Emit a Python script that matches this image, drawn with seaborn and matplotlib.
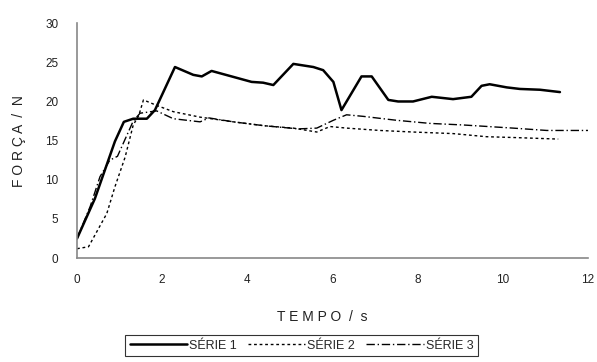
import matplotlib
matplotlib.use("Agg")
import matplotlib.pyplot as plt
import seaborn as sns

# Série 1
t1 = [0.0, 0.42, 0.89, 1.10, 1.32, 1.64, 1.83, 2.30, 2.73, 2.93, 3.16, 4.10, 4.37, 4.61,
      5.08, 5.55, 5.78, 6.02, 6.21, 6.68, 6.92, 7.31, 7.54, 7.89, 8.33, 8.83, 9.26, 9.50,
      9.69, 10.09, 10.4, 10.87, 11.34]
f1 = [2.5, 7.6, 14.9, 17.4, 17.8, 17.8, 18.9, 24.4, 23.4, 23.2, 23.9, 22.5, 22.4, 22.1,
      24.8, 24.4, 24.0, 22.5, 18.9, 23.2, 23.2, 20.2, 20.0, 20.0, 20.6, 20.3, 20.6, 22.0,
      22.2, 21.8, 21.6, 21.5, 21.2]

# Série 2
t2 = [0.0, 0.27, 0.70, 0.89, 1.13, 1.32, 1.45, 1.56, 1.87, 2.26, 2.89, 3.67, 4.40, 5.08,
      5.63, 5.94, 6.33, 7.11, 7.89, 8.83, 9.62, 10.24, 11.3]
f2 = [1.2, 1.45, 5.7, 9.1, 12.9, 17.0, 18.2, 20.2, 19.5, 18.7, 18.0, 17.4, 16.9, 16.6,
      16.1, 16.8, 16.6, 16.3, 16.1, 15.9, 15.5, 15.4, 15.2]

# Série 3
t3 = [0.0, 0.31, 0.54, 0.77, 0.95, 1.32, 1.48, 1.87, 2.26, 2.89, 3.10, 3.67, 4.40, 5.20,
      5.63, 6.02, 6.33, 6.72, 7.50, 8.29, 9.07, 10.24, 11.03, 12.04]
f3 = [2.5, 6.6, 10.4, 12.5, 13.0, 17.5, 18.5, 18.8, 17.8, 17.4, 17.9, 17.4, 16.9, 16.5,
      16.6, 17.6, 18.3, 18.1, 17.6, 17.2, 17.0, 16.6, 16.3, 16.3]

labels = ["SÉRIE 1", "SÉRIE 2", "SÉRIE 3"]

sns.set_style("white")
plt.rcParams["font.family"] = ["Liberation Sans", "DejaVu Sans"]

fig = plt.figure(figsize=(5.97, 3.62), dpi=100)
ax = fig.add_axes([0.129, 0.287, 0.856, 0.649])

sns.lineplot(x=t1, y=f1, ax=ax, color="black", linewidth=1.8, label=labels[0])
sns.lineplot(x=t2, y=f2, ax=ax, color="black", linewidth=1.0, linestyle=(0, (2, 2)),
             label=labels[1])
sns.lineplot(x=t3, y=f3, ax=ax, color="black", linewidth=1.0, linestyle=(0, (6, 2, 1, 2)),
             label=labels[2])

ax.set_xlim(0, 12)
ax.set_ylim(0, 30)
ax.set_xticks(range(0, 13, 2))
ax.set_yticks(range(0, 31, 5))
ax.tick_params(axis="both", labelsize=8.5, length=1.5, width=0.8, color="#777777",
               labelcolor="#222222", direction="out")
ax.tick_params(axis="y", pad=12)
ax.tick_params(axis="x", pad=10)
for side in ["top", "right"]:
    ax.spines[side].set_visible(False)
for side in ["left", "bottom"]:
    ax.spines[side].set_color("#888888")
    ax.spines[side].set_linewidth(1.2)

ax.set_xlabel("T E M P O  /  s", fontsize=10, color="#222222", labelpad=16)
ax.xaxis.set_label_coords(0.48, -0.22)
ax.set_ylabel("F O R Ç A  /  N", fontsize=10, color="#222222", labelpad=14)

handles, lbls = ax.get_legend_handles_labels()
ax.get_legend().remove()
leg = fig.legend(handles, lbls, loc="center", bbox_to_anchor=(0.505, 0.045), ncol=3,
                 frameon=True, fontsize=9, fancybox=False, borderpad=0.35,
                 handlelength=4.6, handletextpad=0.15, columnspacing=0.9)
leg.get_frame().set_edgecolor("black")
leg.get_frame().set_linewidth(0.8)

fig.savefig("out.png", dpi=100)
